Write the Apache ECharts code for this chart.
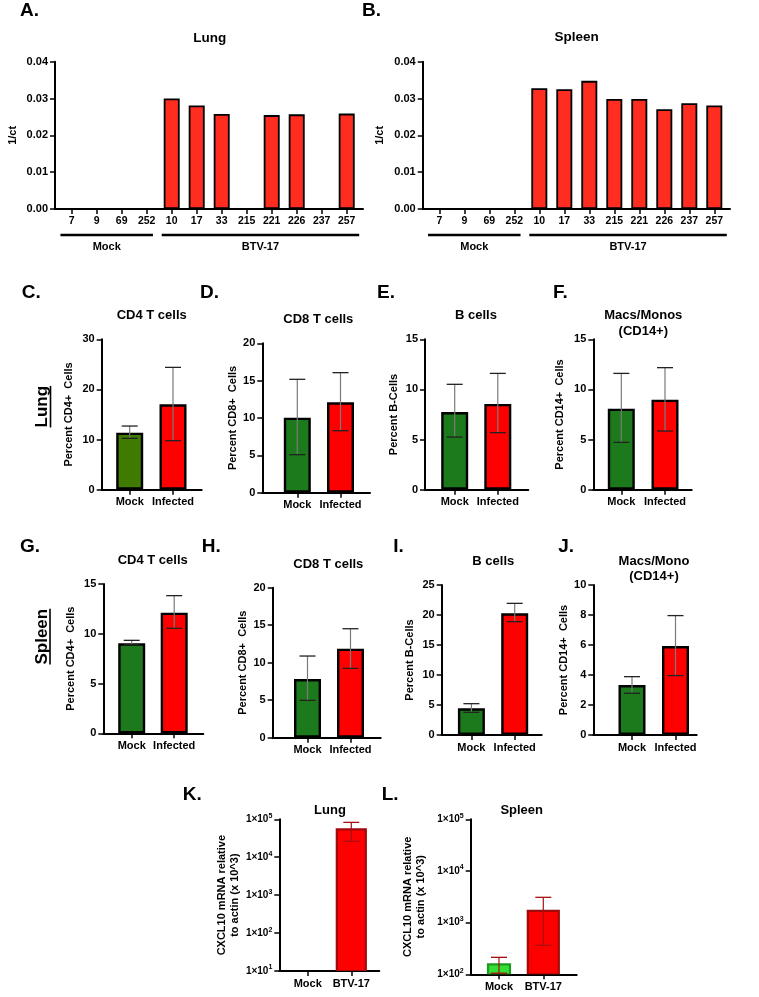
<!DOCTYPE html>
<html><head><meta charset="utf-8">
<script src="https://cdn.jsdelivr.net/npm/echarts@6/dist/echarts.min.js"></script>
<style>html,body{margin:0;padding:0;background:#fff}#c{width:759px;height:997px}</style>
</head><body><div id="c"></div>
<script>
const FONT = '"Liberation Sans", Arial, Helvetica, sans-serif';

// ---------------- DATA ----------------
// Panels A/B: 1/ct per animal
const sampleIds = ['7', '9', '69', '252', '10', '17', '33', '215', '221', '226', '237', '257'];
const lungCt = [0, 0, 0, 0, 0.0300, 0.0281, 0.0258, 0, 0.0255, 0.0257, 0, 0.0259];
const spleenCt = [0, 0, 0, 0, 0.0328, 0.0325, 0.0348, 0.0299, 0.0299, 0.0271, 0.0287, 0.0281];
const groupNames = ['Mock', 'BTV-17'];
const groupFrom = [-0.45, 3.6];
const groupTo = [3.25, 11.5];

// Panels C-J: flow cytometry (mean, error low, error high)
const flowCats = ['Mock', 'Infected'];
const lungCD4Mean = [11.37, 17.03], lungCD4Low = [10.24, 9.78], lungCD4High = [12.7, 24.4];
const lungCD8Mean = [10.04, 12.1], lungCD8Low = [5.09, 8.3], lungCD8High = [15.18, 16.07];
const lungBMean = [7.75, 8.55], lungBLow = [5.25, 5.69], lungBHigh = [10.51, 11.6];
const lungCD14Mean = [8.08, 8.98], lungCD14Low = [4.72, 5.85], lungCD14High = [11.6, 12.17];
const spleenCD4Mean = [9.04, 12.12], spleenCD4Low = [8.9, 10.55], spleenCD4High = [9.34, 13.83];
const spleenCD8Mean = [7.82, 11.87], spleenCD8Low = [4.98, 9.24], spleenCD8High = [10.89, 14.53];
const spleenBMean = [4.44, 20.28], spleenBLow = [3.78, 18.89], spleenBHigh = [5.22, 21.94];
const spleenCD14Mean = [3.33, 5.93], spleenCD14Low = [2.78, 3.96], spleenCD14High = [3.89, 7.96];

// Panels K/L: CXCL10 qPCR
const qpcrCats = ['Mock', 'BTV-17'];
const lungCxclMean = [null, 54500], lungCxclLow = [null, 26300], lungCxclHigh = [null, 83000];
const spleenCxclMean = [156, 1683], spleenCxclLow = [105, 364], spleenCxclHigh = [213, 3090];

// ---------------- STYLE / LAYOUT ----------------
const RED_A = '#ff2d1f', RED = '#ff0000', GREEN = '#1c7a1c', OLIVE = '#3e7b00';
const panels = [
  {cats: sampleIds, mean: lungCt, yMin: 0, yMax: 0.04, yInt: 0.01, dec: 2, yName: '1/ct', nameGap: 36,
   colors: sampleIds.map(() => RED_A), barW: 16, bw: 1.8, xFont: 10.5, groups: true,
   left: 55, top: 61.7, width: 308, height: 147.3, first: 16.7, step: 25},
  {cats: sampleIds, mean: spleenCt, yMin: 0, yMax: 0.04, yInt: 0.01, dec: 2, yName: '1/ct', nameGap: 36,
   colors: sampleIds.map(() => RED_A), barW: 16, bw: 1.8, xFont: 10.5, groups: true,
   left: 422.7, top: 61.7, width: 307.3, height: 147.3, first: 16.6, step: 25},
  {cats: flowCats, mean: lungCD4Mean, low: lungCD4Low, high: lungCD4High, yMin: 0, yMax: 30, yInt: 10, yName: 'Percent CD4+  Cells', nameGap: 26,
   colors: [OLIVE, RED], left: 101.7, top: 339.3, width: 100, height: 150.4, first: 28, step: 43.3},
  {cats: flowCats, mean: lungCD8Mean, low: lungCD8Low, high: lungCD8High, yMin: 0, yMax: 20, yInt: 5, yName: 'Percent CD8+  Cells', nameGap: 19,
   colors: [GREEN, RED], left: 262.3, top: 343.3, width: 107.7, height: 149.4, first: 35, step: 43.2},
  {cats: flowCats, mean: lungBMean, low: lungBLow, high: lungBHigh, yMin: 0, yMax: 15, yInt: 5, yName: 'Percent B-Cells', nameGap: 25,
   colors: [GREEN, RED], left: 425, top: 339.3, width: 103.3, height: 150.4, first: 29.7, step: 43.1},
  {cats: flowCats, mean: lungCD14Mean, low: lungCD14Low, high: lungCD14High, yMin: 0, yMax: 15, yInt: 5, yName: 'Percent CD14+  Cells', nameGap: 27,
   colors: [GREEN, RED], left: 593.3, top: 339.3, width: 98.4, height: 150.4, first: 28, step: 43.7},
  {cats: flowCats, mean: spleenCD4Mean, low: spleenCD4Low, high: spleenCD4High, yMin: 0, yMax: 15, yInt: 5, yName: 'Percent CD4+  Cells', nameGap: 26,
   colors: [GREEN, RED], left: 103.3, top: 584, width: 100, height: 149.3, first: 28.4, step: 42.5},
  {cats: flowCats, mean: spleenCD8Mean, low: spleenCD8Low, high: spleenCD8High, yMin: 0, yMax: 20, yInt: 5, yName: 'Percent CD8+  Cells', nameGap: 19.5,
   colors: [GREEN, RED], left: 272.7, top: 587.7, width: 108, height: 150, first: 34.8, step: 43},
  {cats: flowCats, mean: spleenBMean, low: spleenBLow, high: spleenBHigh, yMin: 0, yMax: 25, yInt: 5, yName: 'Percent B-Cells', nameGap: 25,
   colors: [GREEN, RED], left: 441.7, top: 585, width: 100, height: 150, first: 29.7, step: 43.3},
  {cats: flowCats, mean: spleenCD14Mean, low: spleenCD14Low, high: spleenCD14High, yMin: 0, yMax: 10, yInt: 2, yName: 'Percent CD14+  Cells', nameGap: 15,
   colors: [GREEN, RED], left: 593.3, top: 585, width: 103.4, height: 150, first: 38.7, step: 43.5},
  {cats: qpcrCats, mean: lungCxclMean, low: lungCxclLow, high: lungCxclHigh, log: true, yMin: 10, yMax: 100000,
   yName: 'CXCL10 mRNA relative\nto actin (x 10^3)', nameGap: 38,
   colors: ['#33e033', RED], borders: ['#1f9a1f', '#a00a0a'], widths: [29, 29], errColor: '#a81010',
   left: 279.3, top: 819.3, width: 100, height: 151.7, first: 28.4, step: 43.6},
  {cats: qpcrCats, mean: spleenCxclMean, low: spleenCxclLow, high: spleenCxclHigh, log: true, yMin: 100, yMax: 100000,
   yName: 'CXCL10 mRNA relative\nto actin (x 10^3)', nameGap: 43,
   colors: ['#33e033', RED], borders: ['#1f9a1f', '#a00a0a'], widths: [22, 31], errColor: '#a81010',
   left: 470.7, top: 819.3, width: 106, height: 155, first: 28.3, step: 44.3}
];

const labels = [
  // panel letters
  {t: 'A.', x: 20, y: 11, s: 19, a: 'left'}, {t: 'B.', x: 362, y: 11, s: 19, a: 'left'},
  {t: 'C.', x: 21.7, y: 293, s: 19, a: 'left'}, {t: 'D.', x: 200, y: 293, s: 19, a: 'left'},
  {t: 'E.', x: 377, y: 293, s: 19, a: 'left'}, {t: 'F.', x: 553, y: 293, s: 19, a: 'left'},
  {t: 'G.', x: 20, y: 546.7, s: 19, a: 'left'}, {t: 'H.', x: 201.7, y: 546.7, s: 19, a: 'left'},
  {t: 'I.', x: 393.3, y: 546.7, s: 19, a: 'left'}, {t: 'J.', x: 558.3, y: 546.7, s: 19, a: 'left'},
  {t: 'K.', x: 182.7, y: 795, s: 19, a: 'left'}, {t: 'L.', x: 381.7, y: 795, s: 19, a: 'left'},
  // titles
  {t: 'Lung', x: 209.7, y: 38, s: 13.5}, {t: 'Spleen', x: 576.7, y: 37.7, s: 13.5},
  {t: 'CD4 T cells', x: 151.7, y: 315, s: 13}, {t: 'CD8 T cells', x: 318.3, y: 319.3, s: 13},
  {t: 'B cells', x: 476, y: 315, s: 13}, {t: 'Macs/Monos', x: 643.3, y: 315, s: 13}, {t: '(CD14+)', x: 643.3, y: 331.7, s: 13},
  {t: 'CD4 T cells', x: 152.7, y: 560, s: 13}, {t: 'CD8 T cells', x: 328.3, y: 564.3, s: 13},
  {t: 'B cells', x: 493.3, y: 561, s: 13}, {t: 'Macs/Mono', x: 654, y: 561, s: 13}, {t: '(CD14+)', x: 654, y: 576.7, s: 13},
  {t: 'Lung', x: 330, y: 810, s: 13}, {t: 'Spleen', x: 521.7, y: 810, s: 13}
];
const sideLabels = [
  {t: 'Lung', x: 42.7, y: 406.7, s: 17, ux: 50.5},
  {t: 'Spleen', x: 42.7, y: 636.7, s: 17, ux: 50}
];

// ---------------- BUILD ----------------
const grids = [], xAxes = [], yAxes = [], series = [];

function errRender(lineColor, capColor, capHalf) {
  return function (params, api) {
    const x = api.value(0);
    const top = api.coord([x, api.value(2)]);
    const bot = api.coord([x, api.value(1)]);
    return {type: 'group', children: [
      {type: 'line', shape: {x1: top[0], y1: top[1], x2: bot[0], y2: bot[1]}, style: {stroke: lineColor, lineWidth: 1.2}},
      {type: 'line', shape: {x1: top[0] - capHalf, y1: top[1], x2: top[0] + capHalf, y2: top[1]}, style: {stroke: capColor, lineWidth: 1.3}},
      {type: 'line', shape: {x1: bot[0] - capHalf, y1: bot[1], x2: bot[0] + capHalf, y2: bot[1]}, style: {stroke: capColor, lineWidth: 1.3}}
    ]};
  };
}

panels.forEach((p, i) => {
  const idx = p.cats.map((_, k) => k);
  grids.push({left: p.left, top: p.top, width: p.width, height: p.height, containLabel: false, outerBoundsMode: 'none'});
  xAxes.push({
    type: 'value', gridIndex: i, min: -p.first / p.step, max: (p.width - p.first) / p.step,
    axisLine: {show: true, onZero: false, lineStyle: {color: '#000', width: 2}},
    axisTick: {show: true, customValues: idx, length: 5, lineStyle: {color: '#000', width: 1.5}},
    axisLabel: {show: true, customValues: idx, formatter: v => p.cats[Math.round(v)], color: '#000', fontWeight: 'bold',
      fontSize: p.xFont || 11, fontFamily: FONT, margin: 7},
    splitLine: {show: false}
  });
  const y = {
    gridIndex: i, min: p.yMin, max: p.yMax, name: p.yName, nameLocation: 'middle', nameRotate: 90, nameGap: p.nameGap,
    nameTextStyle: {color: '#000', fontWeight: 'bold', fontSize: 11, fontFamily: FONT, lineHeight: 13},
    axisLine: {show: true, onZero: false, lineStyle: {color: '#000', width: 2}},
    axisTick: {show: true, length: 5, lineStyle: {color: '#000', width: 1.5}},
    splitLine: {show: false}
  };
  if (p.log) {
    y.type = 'log'; y.logBase = 10;
    y.axisLabel = {color: '#000', fontFamily: FONT, margin: 7,
      formatter: v => '{b|1×10}{s|' + Math.round(Math.log10(v)) + '}',
      rich: {b: {fontSize: 10, fontWeight: 'bold', color: '#000', fontFamily: FONT, lineHeight: 14},
             s: {fontSize: 7, fontWeight: 'bold', color: '#000', fontFamily: FONT, verticalAlign: 'top', lineHeight: 10}}};
    y.minorTick = {show: false};
  } else {
    y.type = 'value'; y.interval = p.yInt;
    y.axisLabel = {color: '#000', fontWeight: 'bold', fontSize: 11, fontFamily: FONT, margin: 7,
      formatter: v => p.dec ? v.toFixed(p.dec) : String(v)};
  }
  yAxes.push(y);

  if (p.log) {
    series.push({
      type: 'custom', xAxisIndex: i, yAxisIndex: i, z: 3, clip: true,
      data: idx.filter(k => p.mean[k] != null).map(k => [k, p.mean[k]]),
      encode: {x: 0, y: 1},
      renderItem: function (params, api) {
        const k = api.value(0);
        const t = api.coord([k, api.value(1)]);
        const b = api.coord([k, p.yMin]);
        const w = p.widths[k];
        return {type: 'rect', shape: {x: t[0] - w / 2, y: t[1], width: w, height: b[1] - t[1]},
          style: {fill: p.colors[k], stroke: p.borders[k], lineWidth: 2.2}};
      }
    });
  } else {
    series.push({
      type: 'bar', xAxisIndex: i, yAxisIndex: i, barWidth: p.barW || 27, z: 3,
      itemStyle: {borderColor: '#000', borderWidth: p.bw || 2.4},
      data: idx.map(k => ({value: [k, p.mean[k]], itemStyle: {color: p.colors[k]}}))
    });
  }
  if (p.low) {
    const ec = p.errColor || '#7a7a7a';
    const cc = p.errColor || '#222';
    series.push({
      type: 'custom', xAxisIndex: i, yAxisIndex: i, z: 5,
      data: idx.filter(k => p.low[k] != null).map(k => [k, p.low[k], p.high[k]]),
      encode: {x: 0, y: [1, 2]},
      renderItem: errRender(ec, cc, 8)
    });
  }
  if (p.groups) {
    series.push({
      type: 'custom', xAxisIndex: i, yAxisIndex: i, z: 5, clip: false,
      data: groupNames.map((g, k) => [groupFrom[k], groupTo[k], k]),
      encode: {x: [0, 1]},
      renderItem: function (params, api) {
        const a = api.coord([api.value(0), 0]);
        const b = api.coord([api.value(1), 0]);
        const yy = a[1] + 26;
        return {type: 'group', children: [
          {type: 'line', shape: {x1: a[0], y1: yy, x2: b[0], y2: yy}, style: {stroke: '#000', lineWidth: 2.3}},
          {type: 'text', x: (a[0] + b[0]) / 2, y: yy + 11.5,
           style: {text: groupNames[api.value(2)], textAlign: 'center', textVerticalAlign: 'middle',
                   font: 'bold 11px ' + FONT, fill: '#000'}}
        ]};
      }
    });
  }
});

const graphic = [];
labels.forEach(l => graphic.push({type: 'text', x: l.x, y: l.y, silent: true,
  style: {text: l.t, textAlign: l.a || 'center', textVerticalAlign: 'middle', font: 'bold ' + l.s + 'px ' + FONT, fill: '#000'}}));
sideLabels.forEach(l => {
  graphic.push({type: 'text', x: l.x, y: l.y, rotation: Math.PI / 2, silent: true,
    style: {text: l.t, textAlign: 'center', textVerticalAlign: 'middle', font: 'bold ' + l.s + 'px ' + FONT, fill: '#000'}});
});

const chart = echarts.init(document.getElementById('c'), null, {renderer: 'canvas'});
chart.setOption({
  animation: false, backgroundColor: '#fff',
  grid: grids, xAxis: xAxes, yAxis: yAxes, series: series, graphic: graphic
});
// underline for rotated side labels, measured from rendered text length
const ctx = document.createElement('canvas').getContext('2d');
const extra = sideLabels.map(l => {
  ctx.font = 'bold ' + l.s + 'px ' + FONT;
  const w = ctx.measureText(l.t).width;
  return {type: 'line', silent: true, shape: {x1: l.ux, y1: l.y - w / 2, x2: l.ux, y2: l.y + w / 2}, style: {stroke: '#000', lineWidth: 1.6}};
});
chart.setOption({graphic: graphic.concat(extra)});
</script></body></html>
